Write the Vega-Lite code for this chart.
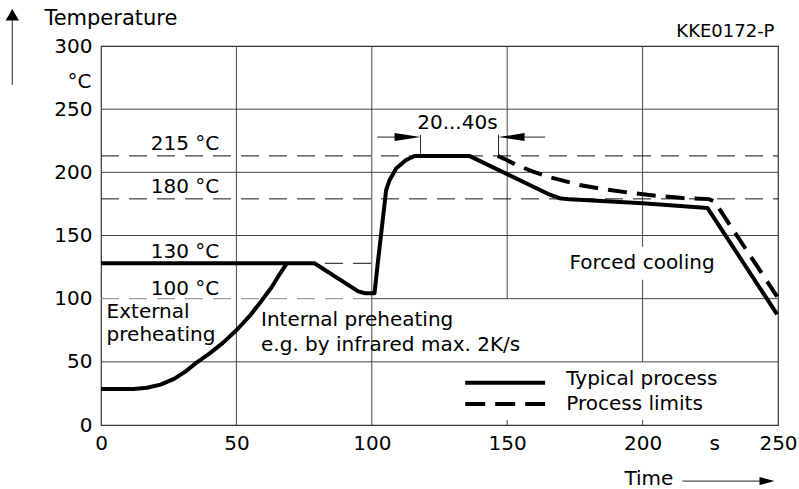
{
  "$schema": "https://vega.github.io/schema/vega-lite/v6.json",
  "width": 677,
  "height": 379,
  "autosize": {"type": "none"},
  "padding": {"left": 101, "top": 46, "right": 21, "bottom": 64},
  "background": "white",
  "config": {
    "view": {"stroke": "#333", "strokeWidth": 1.2},
    "font": "DejaVu Sans",
    "axis": {"labelFont": "DejaVu Sans", "labelFontSize": 20, "labelColor": "#000", "ticks": false, "domain": false, "grid": false, "labelOverlap": false, "labelFlush": false}
  },
  "encoding": {
    "x": {"field": "x", "type": "quantitative", "scale": {"domain": [0, 250], "nice": false, "zero": false}, "axis": {"values": [0, 50, 100, 150, 200, 250], "labelPadding": 8, "title": null}},
    "y": {"field": "y", "type": "quantitative", "scale": {"domain": [0, 300], "nice": false, "zero": false}, "axis": {"values": [0, 50, 100, 150, 200, 250, 300], "labelPadding": 9, "title": null}}
  },
  "layer": [
    {
      "data": {"values": [
        {"x": 50, "x2": 50, "y": 0, "y2": 300},
        {"x": 100, "x2": 100, "y": 0, "y2": 300},
        {"x": 150, "x2": 150, "y": 100, "y2": 300},
        {"x": 150, "x2": 150, "y": 0, "y2": 4},
        {"x": 200, "x2": 200, "y": 0, "y2": 4},
        {"x": 200, "x2": 200, "y": 50, "y2": 115},
        {"x": 200, "x2": 200, "y": 141, "y2": 300},
        {"x": 0, "x2": 250, "y": 50, "y2": 50},
        {"x": 100, "x2": 250, "y": 100, "y2": 100},
        {"x": 0, "x2": 250, "y": 150, "y2": 150},
        {"x": 0, "x2": 250, "y": 200, "y2": 200},
        {"x": 0, "x2": 250, "y": 250, "y2": 250}
      ]},
      "mark": {"type": "rule", "color": "#444", "strokeWidth": 1},
      "encoding": {"x2": {"field": "x2"}, "y2": {"field": "y2"}}
    },
    {
      "data": {"values": [
        {"x": 0, "x2": 250, "y": 213},
        {"x": 0, "x2": 250, "y": 179},
        {"x": 0, "x2": 102, "y": 128}
      ]},
      "mark": {"type": "rule", "color": "#111", "strokeWidth": 1, "strokeDash": [18, 10]},
      "encoding": {"x2": {"field": "x2"}}
    },
    {
      "data": {"values": [{"x": 0, "x2": 100, "y": 100}]},
      "mark": {"type": "rule", "color": "#888", "strokeWidth": 1, "strokeDash": [18, 10]},
      "encoding": {"x2": {"field": "x2"}}
    },
    {
      "data": {"values": [
        {"x": 118, "x2": 118, "y": 213.9, "y2": 229.7},
        {"x": 146.8, "x2": 146.8, "y": 213.9, "y2": 229.7},
        {"x": 102, "x2": 112, "y": 227.9, "y2": 227.9},
        {"x": 152, "x2": 164, "y": 227.9, "y2": 227.9},
        {"x": -32.76, "x2": -32.76, "y": 269.3, "y2": 322},
        {"x": 214.7, "x2": 244, "y": -44.4, "y2": -44.4}
      ]},
      "mark": {"type": "rule", "color": "#222", "strokeWidth": 1},
      "encoding": {"x2": {"field": "x2"}, "y2": {"field": "y2"}}
    },
    {
      "data": {"values": [{"x": 118, "y": 227.9}]},
      "mark": {"type": "point", "shape": "M0,0 L-2.6,-0.4 L-2.6,0.4 Z", "size": 400, "filled": true, "color": "#000", "opacity": 1, "strokeWidth": 0}
    },
    {
      "data": {"values": [{"x": 146.8, "y": 227.9}]},
      "mark": {"type": "point", "shape": "M0,0 L2.6,-0.4 L2.6,0.4 Z", "size": 400, "filled": true, "color": "#000", "opacity": 1, "strokeWidth": 0}
    },
    {
      "data": {"values": [{"x": -32.76, "y": 329.3}]},
      "mark": {"type": "point", "shape": "M0,0 L-0.67,1.15 L0.67,1.15 Z", "size": 400, "filled": true, "color": "#000", "opacity": 1, "strokeWidth": 0}
    },
    {
      "data": {"values": [{"x": 248.7, "y": -44.4}]},
      "mark": {"type": "point", "shape": "M0,0 L-1.5,-0.4 L-1.5,0.4 Z", "size": 400, "filled": true, "color": "#000", "opacity": 1, "strokeWidth": 0}
    },
    {
      "data": {"values": [
        {"x": 146.5, "y": 213}, {"x": 149.6, "y": 210}, {"x": 153.3, "y": 206}, {"x": 159.3, "y": 200.7},
        {"x": 166, "y": 196}, {"x": 176.7, "y": 190}, {"x": 186, "y": 186.5}, {"x": 196.4, "y": 183.5},
        {"x": 205, "y": 181.5}, {"x": 214.8, "y": 179.6}, {"x": 224.5, "y": 178.8}, {"x": 226.5, "y": 177},
        {"x": 249.7, "y": 101.6}
      ]},
      "mark": {"type": "line", "color": "#000", "strokeWidth": 4, "strokeDash": [19, 10], "strokeCap": "butt"}
    },
    {
      "data": {"values": [
        {"seg": "A", "x": 0, "y": 128}, {"seg": "A", "x": 78.8, "y": 128}, {"seg": "A", "x": 95, "y": 105.8},
        {"seg": "A", "x": 97.5, "y": 104.3}, {"seg": "A", "x": 101, "y": 104.3}, {"seg": "A", "x": 102.2, "y": 128},
        {"seg": "A", "x": 105.3, "y": 186}, {"seg": "A", "x": 106.5, "y": 193.5}, {"seg": "A", "x": 109, "y": 203},
        {"seg": "A", "x": 112.5, "y": 209.5}, {"seg": "A", "x": 115.7, "y": 213}, {"seg": "A", "x": 136, "y": 213},
        {"seg": "A", "x": 165, "y": 183}, {"seg": "A", "x": 169.3, "y": 179.5}, {"seg": "A", "x": 173, "y": 178.6},
        {"seg": "A", "x": 200, "y": 175.6}, {"seg": "A", "x": 224, "y": 171.7}, {"seg": "A", "x": 249.7, "y": 87.5},
        {"seg": "B", "x": 0, "y": 28.5}, {"seg": "B", "x": 12, "y": 28.5}, {"seg": "B", "x": 17, "y": 29.5},
        {"seg": "B", "x": 22, "y": 32}, {"seg": "B", "x": 27, "y": 36.5}, {"seg": "B", "x": 31, "y": 42},
        {"seg": "B", "x": 35, "y": 49}, {"seg": "B", "x": 40, "y": 56.5}, {"seg": "B", "x": 45, "y": 65},
        {"seg": "B", "x": 50, "y": 75}, {"seg": "B", "x": 55, "y": 86.5}, {"seg": "B", "x": 59.5, "y": 99},
        {"seg": "B", "x": 63, "y": 109}, {"seg": "B", "x": 66, "y": 119.5}, {"seg": "B", "x": 68.5, "y": 127.5}
      ]},
      "mark": {"type": "line", "color": "#000", "strokeWidth": 4, "strokeJoin": "round"},
      "encoding": {"detail": {"field": "seg"}}
    },
    {
      "data": {"values": [{"x": 134.5, "x2": 164, "y": 33.5}]},
      "mark": {"type": "rule", "color": "#000", "strokeWidth": 4},
      "encoding": {"x2": {"field": "x2"}}
    },
    {
      "data": {"values": [{"x": 134.5, "x2": 164, "y": 16.6}]},
      "mark": {"type": "rule", "color": "#000", "strokeWidth": 4, "strokeDash": [20, 10]},
      "encoding": {"x2": {"field": "x2"}}
    },
    {
      "data": {"values": [
        {"x": 2.07, "y": 84.4, "label": "External"},
        {"x": 2.07, "y": 66.2, "label": "preheating"},
        {"x": 59.1, "y": 78.4, "label": "Internal preheating"},
        {"x": 59.1, "y": 58.9, "label": "e.g. by infrared max. 2K/s"},
        {"x": 173, "y": 123.6, "label": "Forced cooling"},
        {"x": 171.8, "y": 31.7, "label": "Typical process"},
        {"x": 171.8, "y": 11.9, "label": "Process limits"},
        {"x": 193.3, "y": -47.5, "label": "Time"}
      ]},
      "mark": {"type": "text", "align": "left", "baseline": "alphabetic", "fontSize": 20, "font": "DejaVu Sans", "color": "#000"},
      "encoding": {"text": {"field": "label"}}
    },
    {
      "data": {"values": [
        {"x": 43.7, "y": 217.9, "label": "215 °C"},
        {"x": 43.7, "y": 183.5, "label": "180 °C"},
        {"x": 43.7, "y": 132, "label": "130 °C"},
        {"x": 43.7, "y": 103, "label": "100 °C"},
        {"x": -3.56, "y": 267, "label": "°C"}
      ]},
      "mark": {"type": "text", "align": "right", "baseline": "alphabetic", "fontSize": 20, "font": "DejaVu Sans", "color": "#000"},
      "encoding": {"text": {"field": "label"}}
    },
    {
      "data": {"values": [
        {"x": 131.6, "y": 234.3, "label": "20...40s"},
        {"x": 226.6, "y": -19.8, "label": "s"}
      ]},
      "mark": {"type": "text", "align": "center", "baseline": "alphabetic", "fontSize": 20, "font": "DejaVu Sans", "color": "#000"},
      "encoding": {"text": {"field": "label"}}
    },
    {
      "data": {"values": [{"x": -20.9, "y": 316.9, "label": "Temperature"}]},
      "mark": {"type": "text", "align": "left", "baseline": "alphabetic", "fontSize": 21, "font": "DejaVu Sans", "color": "#000"},
      "encoding": {"text": {"field": "label"}}
    },
    {
      "data": {"values": [{"x": 248.7, "y": 307.4, "label": "KKE0172-P"}]},
      "mark": {"type": "text", "align": "right", "baseline": "alphabetic", "fontSize": 18, "font": "DejaVu Sans", "color": "#000"},
      "encoding": {"text": {"field": "label"}}
    }
  ]
}
